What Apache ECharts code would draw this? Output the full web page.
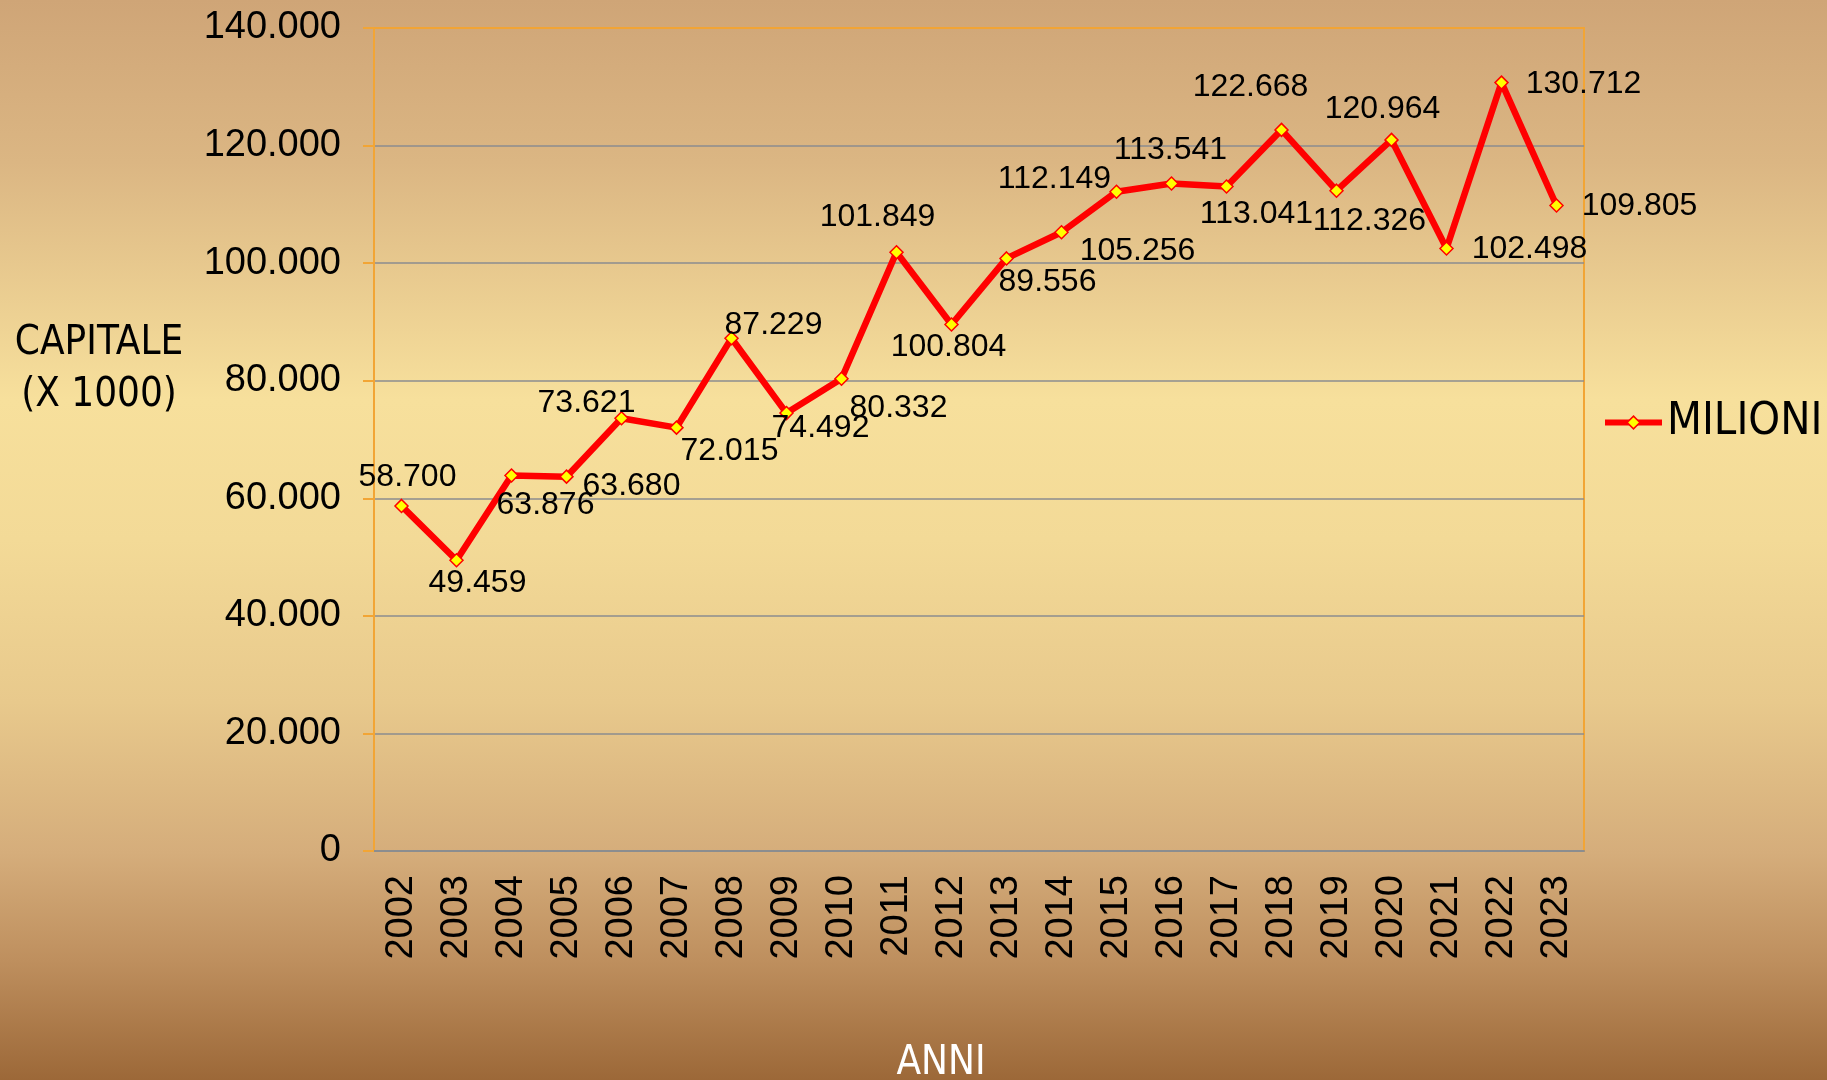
<!DOCTYPE html>
<html>
<head>
<meta charset="utf-8">
<title>Capitale</title>
<script src="https://cdn.jsdelivr.net/npm/echarts@6/dist/echarts.min.js"></script>
<style>
	html, body { margin: 0; padding: 0; }
	#lineChart { width: 1827px; height: 1080px; }
</style>
</head>
<body>
<div id="lineChart"></div>
<script>
var anni = ['2002', '2003', '2004', '2005', '2006', '2007', '2008', '2009', '2010', '2011', '2012',
	'2013', '2014', '2015', '2016', '2017', '2018', '2019', '2020', '2021', '2022', '2023'];
var milioni = [58700, 49459, 63876, 63680, 73621, 72015, 87229, 74492, 80332, 101849, 89556,
	100804, 105256, 112149, 113541, 113041, 122668, 112326, 120964, 102498, 130712, 109805];
// etichette come appaiono nel grafico (2012/2013 invertite nell'originale)
var etichette = ['58.700', '49.459', '63.876', '63.680', '73.621', '72.015', '87.229', '74.492', '80.332', '101.849', '100.804',
	'89.556', '105.256', '112.149', '113.541', '113.041', '122.668', '112.326', '120.964', '102.498', '130.712', '109.805'];
var yMin = 0, yMax = 140000, yStep = 20000;

// spostamento delle etichette rispetto al punto
var labelOffsets = [[6, -29], [21, 23], [34, 30], [65, 10], [-35, -15], [53, 24], [42, -13], [34, 15], [57, 29], [-19, -35], [-3, 23],
	[41, 24], [76, 19], [-62, -13], [-1, -33], [30, 28], [-31, -43], [33, 30], [-9, -31], [83, 1], [82, 2], [83, 1]];

var fontFam = "'Liberation Sans', Arial, sans-serif";
var narrowFam = "'Liberation Sans Narrow', 'DejaVu Sans Condensed', Arial, sans-serif";
var orange = '#F2A535';
var gray = '#8B8D8F';

function migliaia(v) {
	return String(v).replace(/\B(?=(\d{3})+(?!\d))/g, '.');
}

var lineChart = echarts.init(document.getElementById('lineChart'));

var seriesData = [];
for (var i = 0; i < milioni.length; i++) {
	seriesData.push({
		value: milioni[i],
		label: { offset: labelOffsets[i] }
	});
}

var splitColors = [];
for (var k = yMin; k <= yMax; k += yStep) {
	splitColors.push(k === yMax ? orange : gray);
}

var option = {
	animation: false,
	backgroundColor: {
		type: 'linear', x: 0, y: 0, x2: 0, y2: 1,
		colorStops: [
			{ offset: 0, color: '#CFA577' },
			{ offset: 0.15, color: '#DBB683' },
			{ offset: 0.37, color: '#F7E09C' },
			{ offset: 0.5, color: '#F3DA97' },
			{ offset: 0.65, color: '#E8C98C' },
			{ offset: 0.79, color: '#D5AD7B' },
			{ offset: 0.89, color: '#BE8F5E' },
			{ offset: 1, color: '#9C6838' }
		]
	},
	grid: {
		left: 374, right: 243, top: 28, bottom: 229,
		show: true,
		borderColor: orange,
		borderWidth: 2,
		backgroundColor: 'transparent'
	},
	legend: {
		data: ['MILIONI'],
		left: 1597,
		top: 395,
		itemWidth: 57,
		itemHeight: 16,
		itemGap: 0,
		lineStyle: { width: 6 },
		itemStyle: { borderWidth: 1.5 },
		textStyle: { color: '#000', fontSize: 45, fontFamily: narrowFam, padding: [0, 0, 0, 0] }
	},
	graphic: [
		{
			type: 'text',
			style: { text: 'CAPITALE', x: 99, y: 344, align: 'center', verticalAlign: 'middle',
				font: '40px ' + narrowFam, fill: '#000' }
		},
		{
			type: 'text',
			style: { text: '(X 1000)', x: 99, y: 396, align: 'center', verticalAlign: 'middle',
				font: '40px ' + narrowFam, fill: '#000' }
		},
		{
			type: 'text',
			style: { text: 'ANNI', x: 941, y: 1064, align: 'center', verticalAlign: 'middle',
				font: '40px ' + narrowFam, fill: '#fff' }
		}
	],
	xAxis: {
		type: 'category',
		data: anni,
		boundaryGap: true,
		axisLine: { lineStyle: { color: gray, width: 2 } },
		axisTick: { length: 11, lineStyle: { color: gray, width: 2 } },
		axisLabel: { rotate: 90, margin: 24, color: '#000', fontSize: 38, fontFamily: fontFam }
	},
	yAxis: {
		type: 'value',
		min: yMin,
		max: yMax,
		interval: yStep,
		axisLine: { show: true, lineStyle: { color: orange, width: 2 } },
		axisTick: { show: true, length: 11, lineStyle: { color: orange, width: 2 } },
		axisLabel: {
			margin: 33, color: '#000', fontSize: 38, fontFamily: fontFam,
			formatter: function(v) { return migliaia(v); }
		},
		splitLine: { lineStyle: { color: splitColors, width: 1.5 } }
	},
	series: [{
		name: 'MILIONI',
		type: 'line',
		data: seriesData,
		symbol: 'diamond',
		symbolSize: 13,
		lineStyle: { color: '#FF0000', width: 6.5 },
		itemStyle: { color: '#FFFF00', borderColor: '#FF0000', borderWidth: 1.5 },
		label: {
			show: true,
			position: 'inside',
			align: 'center',
			verticalAlign: 'middle',
			color: '#000',
			fontSize: 32,
			fontFamily: fontFam,
			formatter: function(p) { return etichette[p.dataIndex]; }
		},
		z: 3
	}]
};

lineChart.setOption(option);
</script>
</body>
</html>
